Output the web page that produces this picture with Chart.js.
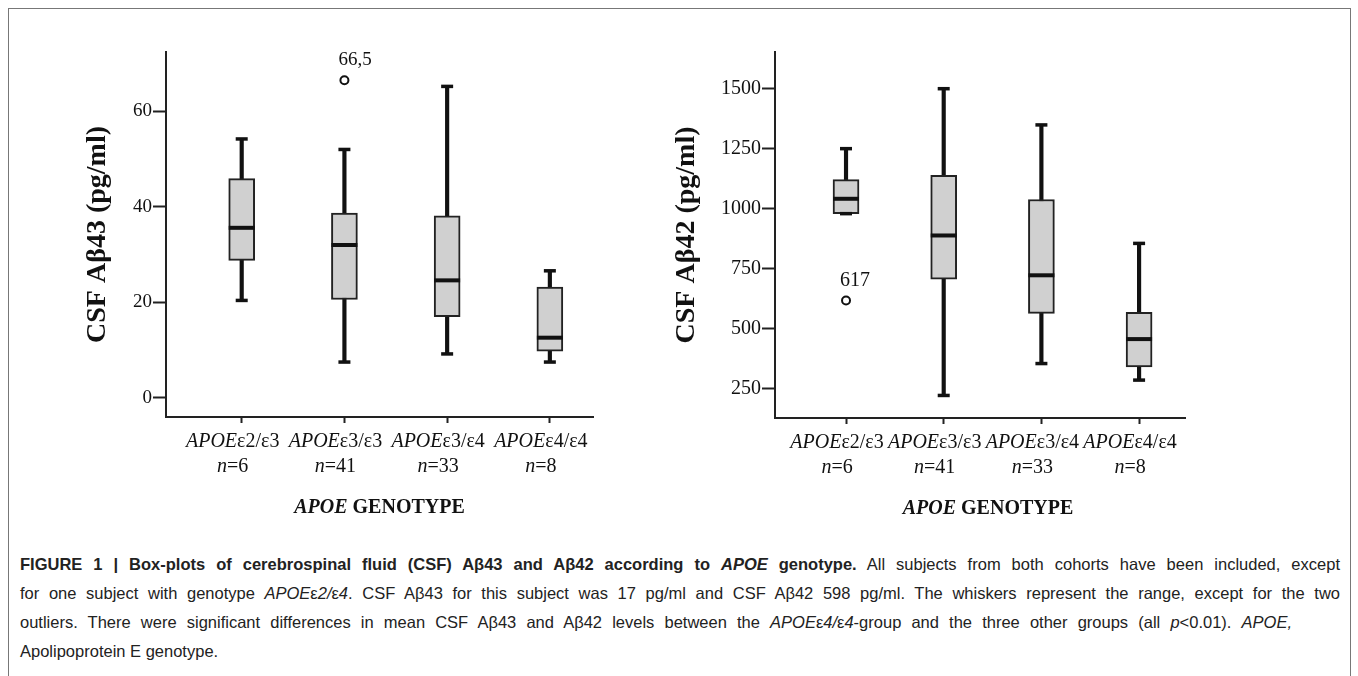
<!DOCTYPE html>
<html>
<head>
<meta charset="utf-8">
<script src="https://cdn.jsdelivr.net/npm/chart.js@4.4.1/dist/chart.umd.min.js"></script>
<style>
  html, body { margin: 0; padding: 0; background: #fff; }
  body { width: 1358px; height: 676px; position: relative; overflow: hidden; }
  .frame { position: absolute; left: 8px; top: 8px; width: 1341px; height: 700px; border: 1px solid #777; }
  canvas { position: absolute; top: 0; }
  #ab43 { left: 0; }
  #ab42 { left: 640px; }
  .caption {
    position: absolute; left: 20px; top: 550px; width: 1320px;
    font-family: "Liberation Sans", Arial, sans-serif; font-size: 16.5px; line-height: 29px; color: #222;
  }
  .caption div { white-space: nowrap; }
  .caption .just { text-align: justify; text-align-last: justify; }
  .caption .short { width: 1272px; }
</style>
</head>
<body>
<div class="frame"></div>
<canvas id="ab43" width="640" height="540"></canvas>
<canvas id="ab42" width="718" height="540"></canvas>
<div class="caption">
  <div class="just"><b>FIGURE 1 | Box-plots of cerebrospinal fluid (CSF) Aβ43 and Aβ42 according to <i>APOE</i> genotype.</b> All subjects from both cohorts have been included, except</div>
  <div class="just">for one subject with genotype <i>APOE</i>ε<i>2/</i>ε<i>4</i>. CSF Aβ43 for this subject was 17 pg/ml and CSF Aβ42 598 pg/ml. The whiskers represent the range, except for the two</div>
  <div class="just short">outliers. There were significant differences in mean CSF Aβ43 and Aβ42 levels between the <i>APOE</i>ε<i>4/</i>ε<i>4</i>-group and the three other groups (all <i>p</i>&lt;0.01). <i>APOE,</i></div>
  <div>Apolipoprotein E genotype.</div>
</div>
<script>
const GENOTYPES = ["ε2/ε3", "ε3/ε3", "ε3/ε4", "ε4/ε4"];
const COUNTS = [6, 41, 33, 8];

// CSF Aβ43 (pg/ml)
const AB43_MIN = [20.4, 7.5, 9.2, 7.5];
const AB43_Q1 = [28.8, 20.6, 17.0, 9.8];
const AB43_MEDIAN = [35.6, 32.0, 24.6, 12.6];
const AB43_Q3 = [45.9, 38.7, 38.1, 23.2];
const AB43_MAX = [54.2, 52.0, 65.2, 26.6];
const AB43_OUTLIERS = [null, 66.5, null, null];
const AB43_OUTLIER_LABELS = [null, "66,5", null, null];
const AB43_TICKS = [0, 20, 40, 60];

// CSF Aβ42 (pg/ml)
const AB42_MIN = [979, 221, 354, 285];
const AB42_Q1 = [979, 706, 563, 340];
const AB42_MEDIAN = [1041, 888, 722, 456];
const AB42_Q3 = [1121, 1139, 1038, 568];
const AB42_MAX = [1250, 1500, 1349, 855];
const AB42_OUTLIERS = [617, null, null, null];
const AB42_OUTLIER_LABELS = ["617", null, null, null];
const AB42_TICKS = [250, 500, 750, 1000, 1250, 1500];

const SERIF = '"Liberation Serif", "Times New Roman", serif';
const INK = "#111";

function points(values) {
  return values
    .map((v, i) => (v == null ? null : { x: i + 1, y: v }))
    .filter((p) => p);
}

function drawMixed(ctx, parts, cx, y) {
  let total = 0;
  parts.forEach(([font, text]) => {
    ctx.font = font;
    total += ctx.measureText(text).width;
  });
  let x = cx - total / 2;
  parts.forEach(([font, text]) => {
    ctx.font = font;
    ctx.fillText(text, x, y);
    x += ctx.measureText(text).width;
  });
}

// category labels, axis title and outlier labels, placed from the chart's own scales
const boxLabels = {
  id: "boxLabels",
  afterDraw(chart, args, opts) {
    const { ctx, chartArea } = chart;
    const xs = chart.scales.x;
    const base = chartArea.bottom;
    ctx.save();
    ctx.fillStyle = INK;
    ctx.textBaseline = "middle";
    GENOTYPES.forEach((g, i) => {
      const cx = xs.getPixelForValue(i + 1) - 9;
      drawMixed(ctx, [["italic 20px " + SERIF, "APOE"], ["20px " + SERIF, g]], cx, base + 25);
      drawMixed(ctx, [["italic 20px " + SERIF, "n"], ["20px " + SERIF, "=" + COUNTS[i]]], cx, base + 50);
    });
    const tx = (chartArea.left + chartArea.right) / 2 + (opts.titleShift || 0);
    drawMixed(ctx, [["italic bold 20px " + SERIF, "APOE"], ["bold 20px " + SERIF, " GENOTYPE"]], tx, base + 91);

    const meta = chart.getDatasetMeta(opts.outlierDataset);
    ctx.font = opts.outlierFont;
    ctx.textAlign = "left";
    meta.data.forEach((pt, k) => {
      const raw = chart.data.datasets[opts.outlierDataset].data[k];
      const text = opts.outlierLabels[raw.x - 1];
      if (text) ctx.fillText(text, pt.x - 6, pt.y - 20);
    });
    ctx.restore();
  },
};

function makeChart(canvasId, s) {
  const el = document.getElementById(canvasId);
  const boxData = s.q1.map((q, i) => ({ x: i + 1, y: [q, s.q3[i]] }));
  const whiskerData = s.min.map((m, i) => ({ x: i + 1, y: [m, s.max[i]] }));

  return new Chart(el.getContext("2d"), {
    type: "bar",
    data: {
      datasets: [
        {
          type: "line", data: points(s.median), showLine: false, order: 0,
          pointStyle: "line", pointRadius: 13, pointBorderWidth: 4, pointBorderColor: INK,
        },
        {
          type: "line", data: points(s.max), showLine: false, order: 1,
          pointStyle: "line", pointRadius: 6, pointBorderWidth: 3.5, pointBorderColor: INK,
        },
        {
          type: "line", data: points(s.min), showLine: false, order: 1,
          pointStyle: "line", pointRadius: 6, pointBorderWidth: 3.5, pointBorderColor: INK,
        },
        {
          type: "line", data: points(s.outliers), showLine: false, order: 0,
          pointStyle: "circle", pointRadius: 4, pointBorderWidth: 2,
          pointBorderColor: INK, pointBackgroundColor: "#fff",
        },
        {
          data: boxData, order: 2, grouped: false, barThickness: 26,
          backgroundColor: "#d0d0d0", borderColor: "#222", borderWidth: 2, borderSkipped: false,
        },
        {
          data: whiskerData, order: 3, grouped: false, barThickness: 3.5,
          backgroundColor: INK, borderWidth: 0,
        },
      ],
    },
    options: {
      responsive: false,
      animation: false,
      devicePixelRatio: 1,
      layout: { padding: { top: 52, right: s.padRight, left: 0, bottom: 0 } },
      plugins: {
        legend: { display: false },
        tooltip: { enabled: false },
        boxLabels: {
          outlierDataset: 3,
          outlierLabels: s.outlierLabels,
          outlierFont: s.outlierFont,
          titleShift: s.titleShift,
        },
      },
      scales: {
        x: {
          type: "linear",
          min: s.xMin,
          max: s.xMax,
          offset: false,
          afterBuildTicks: (scale) => {
            scale.ticks = GENOTYPES.map((g, i) => ({ value: i + 1 }));
          },
          afterFit: (scale) => { scale.height = s.xHeight; },
          ticks: { callback: () => "" },
          grid: {
            offset: false, drawOnChartArea: false, drawTicks: true,
            tickLength: 6, tickWidth: 2, tickColor: "#222",
          },
          border: { display: true, color: "#222", width: 2 },
        },
        y: {
          min: s.yMin,
          max: s.yMax,
          afterBuildTicks: (scale) => {
            scale.ticks = s.ticks.map((v) => ({ value: v }));
          },
          afterFit: (scale) => { scale.width = s.yWidth; },
          ticks: {
            autoSkip: false, padding: 1, color: INK,
            font: { family: SERIF, size: s.tickSize },
            callback: (v) => String(v),
          },
          grid: {
            drawOnChartArea: false, drawTicks: true,
            tickLength: 13, tickWidth: 2, tickColor: "#222",
          },
          border: { display: true, color: "#222", width: 2 },
          title: {
            display: true,
            text: s.title,
            color: INK,
            font: { family: SERIF, size: 28, weight: "bold" },
            padding: { top: s.titlePad, bottom: 0 },
          },
        },
      },
    },
    plugins: [boxLabels],
  });
}

makeChart("ab43", {
  min: AB43_MIN, q1: AB43_Q1, median: AB43_MEDIAN, q3: AB43_Q3, max: AB43_MAX,
  outliers: AB43_OUTLIERS, outlierLabels: AB43_OUTLIER_LABELS, ticks: AB43_TICKS,
  title: "CSF Aβ43 (pg/ml)",
  yMin: -4, yMax: 72.4, xMin: 0.263, xMax: 4.42,
  yWidth: 166, xHeight: 123, padRight: 47, titlePad: 81, tickSize: 19,
  outlierFont: "19px " + SERIF, titleShift: 0,
});

makeChart("ab42", {
  min: AB42_MIN, q1: AB42_Q1, median: AB42_MEDIAN, q3: AB42_Q3, max: AB42_MAX,
  outliers: AB42_OUTLIERS, outlierLabels: AB42_OUTLIER_LABELS, ticks: AB42_TICKS,
  title: "CSF Aβ42 (pg/ml)",
  yMin: 127, yMax: 1653, xMin: 0.273, xMax: 4.47,
  yWidth: 135, xHeight: 122, padRight: 173, titlePad: 30, tickSize: 20,
  outlierFont: "20px " + SERIF, titleShift: 8,
});
</script>
</body>
</html>
